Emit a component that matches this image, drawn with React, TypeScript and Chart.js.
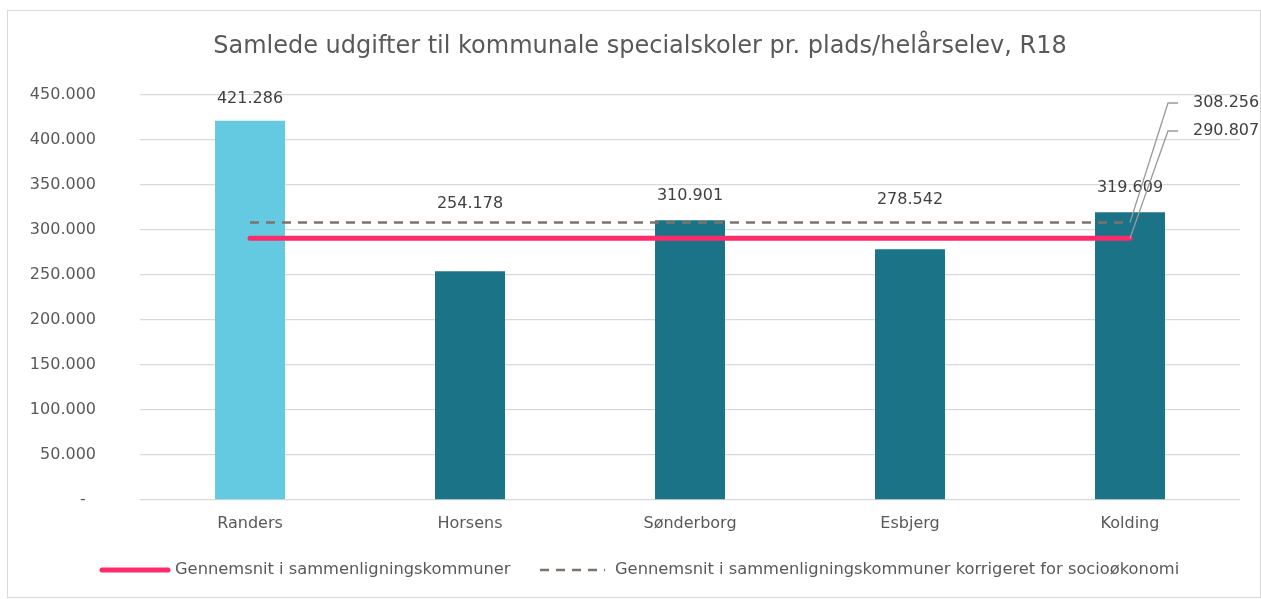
import React, { useEffect, useRef } from "react";
import { Chart, registerables } from "chart.js";

Chart.register(...registerables);

const TITLE = "Samlede udgifter til kommunale specialskoler pr. plads/helårselev, R18";
const categories = ["Randers", "Horsens", "Sønderborg", "Esbjerg", "Kolding"];
const expenses = [421286, 254178, 310901, 278542, 319609];
const averageValue = 290807;
const averageCorrected = 308256;
const averageLabel = "Gennemsnit i sammenligningskommuner";
const correctedLabel = "Gennemsnit i sammenligningskommuner korrigeret for socioøkonomi";
const yTicks = [0, 50000, 100000, 150000, 200000, 250000, 300000, 350000, 400000, 450000];

const FONT = "'DejaVu Sans', sans-serif";
const TEXT = "#595959";
const DARK_TEXT = "#404040";
const LIGHT_BAR = "#63CAE2";
const DARK_BAR = "#1B7387";
const RED = "#FF2A6A";
const GREY_DASH = "#7F726A";

const fmt = (v: number) => (v === 0 ? "-" : Math.round(v).toLocaleString("de-DE"));

const W = 1252;
const H = 586;

const overlayPlugin = {
  id: "overlay",
  afterDraw(chart: any) {
    const ctx = chart.ctx;
    const x = chart.scales.x;
    const y = chart.scales.y;
    ctx.save();
    // title
    ctx.fillStyle = TEXT;
    ctx.font = `24px ${FONT}`;
    ctx.textAlign = "center";
    ctx.textBaseline = "middle";
    ctx.fillText(TITLE, 632, 36);

    // bar labels (lifted as in the original)
    const lifts = [22, 67, 24, 49, 25];
    ctx.fillStyle = DARK_TEXT;
    ctx.font = `16px ${FONT}`;
    const barMeta = chart.getDatasetMeta(0);
    barMeta.data.forEach((bar: any, i: number) => {
      ctx.fillText(fmt(expenses[i]), bar.x, bar.y - lifts[i]);
    });

    // leader labels for average lines
    const last = categories.length - 1;
    const px = x.getPixelForValue(last);
    const items = [
      { v: averageCorrected, ty: 92 },
      { v: averageValue, ty: 120 },
    ];
    ctx.strokeStyle = "#9A9A9A";
    ctx.lineWidth = 1.3;
    ctx.textAlign = "left";
    items.forEach((it) => {
      const py = y.getPixelForValue(it.v);
      ctx.beginPath();
      ctx.moveTo(px, py);
      ctx.lineTo(px + 38, it.ty);
      ctx.lineTo(px + 48, it.ty);
      ctx.stroke();
      ctx.fillText(fmt(it.v), px + 63, it.ty);
    });

    // legend
    const ly = 559;
    ctx.lineCap = "round";
    ctx.strokeStyle = RED;
    ctx.lineWidth = 5;
    ctx.beginPath();
    ctx.moveTo(94, ly);
    ctx.lineTo(160, ly);
    ctx.stroke();
    ctx.lineCap = "butt";
    ctx.strokeStyle = GREY_DASH;
    ctx.lineWidth = 2.5;
    ctx.setLineDash([9, 7]);
    ctx.beginPath();
    ctx.moveTo(532, ly);
    ctx.lineTo(597, ly);
    ctx.stroke();
    ctx.setLineDash([]);
    ctx.fillStyle = TEXT;
    ctx.font = `16.3px ${FONT}`;
    ctx.fillText(averageLabel, 167, ly);
    ctx.fillText(correctedLabel, 607, ly);
    ctx.restore();
  },
};

export default function App() {
  const ref = useRef<HTMLCanvasElement>(null);
  useEffect(() => {
    if (!ref.current) return;
    const chart = new Chart(ref.current, {
      type: "bar",
      data: {
        labels: categories,
        datasets: [
          {
            type: "bar",
            label: "Udgifter",
            data: expenses,
            backgroundColor: expenses.map((_, i) => (i === 0 ? LIGHT_BAR : DARK_BAR)),
            categoryPercentage: 1,
            barPercentage: 0.318,
            order: 3,
          },
          {
            type: "line",
            label: correctedLabel,
            data: categories.map(() => averageCorrected),
            borderColor: GREY_DASH,
            borderWidth: 2.5,
            borderDash: [9, 7],
            pointRadius: 0,
            order: 2,
          },
          {
            type: "line",
            label: averageLabel,
            data: categories.map(() => averageValue),
            borderColor: RED,
            borderWidth: 5,
            borderCapStyle: "round",
            pointRadius: 0,
            order: 1,
          },
        ],
      } as any,
      options: {
        responsive: false,
        animation: false,
        layout: { padding: { top: 84, right: 20, left: 0, bottom: 0 } },
        plugins: {
          legend: { display: false },
          title: { display: false },
          tooltip: { enabled: false },
        },
        scales: {
          x: {
            grid: { display: false, drawTicks: false },
            border: { display: false },
            ticks: { color: TEXT, font: { family: FONT, size: 16 }, padding: 14 },
            afterFit: (s: any) => {
              s.height = H - 489;
            },
          },
          y: {
            min: 0,
            max: 450000,
            afterBuildTicks: (s: any) => {
              s.ticks = yTicks.map((v) => ({ value: v }));
            },
            grid: { color: "#D9D9D9", lineWidth: 1.3, drawTicks: false },
            border: { display: false },
            ticks: {
              color: TEXT,
              font: { family: FONT, size: 16 },
              padding: 44,
              callback: (v: any) => (Number(v) === 0 ? "-  " : fmt(Number(v))),
            },
            afterFit: (s: any) => {
              s.width = 132;
            },
          },
        },
      } as any,
      plugins: [overlayPlugin],
    });
    return () => chart.destroy();
  }, []);

  return (
    <div
      style={{
        position: "absolute",
        left: 7,
        top: 10,
        width: W,
        height: H,
        border: "1px solid #D9D9D9",
        background: "#fff",
      }}
    >
      <canvas ref={ref} width={W} height={H} style={{ display: "block" }} />
    </div>
  );
}
